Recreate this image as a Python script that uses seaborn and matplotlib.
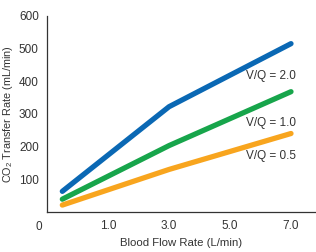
import matplotlib
matplotlib.use("Agg")
import matplotlib.pyplot as plt
import seaborn as sns
import pandas as pd

# data
flow = [-0.5, 3.0, 7.0]
vq_20 = [63, 322, 515]
vq_10 = [39, 203, 368]
vq_05 = [21, 130, 240]
series_names = ["V/Q = 2.0", "V/Q = 1.0", "V/Q = 0.5"]
x_ticks = [1.0, 3.0, 5.0, 7.0]
y_ticks = [100, 200, 300, 400, 500, 600]

df = pd.DataFrame({
    "flow": flow * 3,
    "rate": vq_20 + vq_10 + vq_05,
    "vq": [series_names[0]] * 3 + [series_names[1]] * 3 + [series_names[2]] * 3,
})

sns.set_style("white")
plt.rcParams["font.family"] = ["Liberation Sans", "DejaVu Sans"]
plt.rcParams["mathtext.fontset"] = "custom"
plt.rcParams["mathtext.rm"] = "Liberation Sans"
txt = "#333333"
colors = {series_names[0]: "#0a68b4", series_names[1]: "#17a54b", series_names[2]: "#f8a51e"}

fig = plt.figure(figsize=(3.16, 2.52), dpi=100)
ax = fig.add_axes([0.149, 0.159, 0.851, 0.778])
sns.lineplot(data=df, x="flow", y="rate", hue="vq", palette=colors,
             linewidth=3.8, solid_capstyle="round", legend=False, ax=ax)

ax.set_xlim(-1.0, 7.82)
ax.set_ylim(0, 600)
ax.set_xticks(x_ticks)
ax.set_xticklabels([f"{v:.1f}" for v in x_ticks])
ax.set_yticks(y_ticks)
ax.tick_params(axis="x", direction="in", length=4, width=0.8, colors=txt, labelsize=8.5, pad=6)
ax.tick_params(axis="y", direction="out", length=4, width=0.8, colors=txt, labelsize=8.5, pad=2)
for s in ["top", "right"]:
    ax.spines[s].set_visible(False)
for s in ["left", "bottom"]:
    ax.spines[s].set_color(txt)
    ax.spines[s].set_linewidth(0.9)

ax.text(-1.27, -0.045, "0", transform=ax.get_xaxis_transform(), fontsize=8.5, color=txt,
        ha="center", va="top")
ax.set_xlabel("Blood Flow Rate (L/min)", fontsize=8.2, color=txt, labelpad=4)
ax.set_ylabel(r"CO$_\mathregular{2}$ Transfer Rate (mL/min)", fontsize=7.8, color=txt, labelpad=3)

for name, yv in zip(series_names, [417, 273, 170]):
    ax.text(7.16, yv, name, fontsize=8.5, color=txt, ha="right", va="center")

fig.savefig("out.png", dpi=100)
